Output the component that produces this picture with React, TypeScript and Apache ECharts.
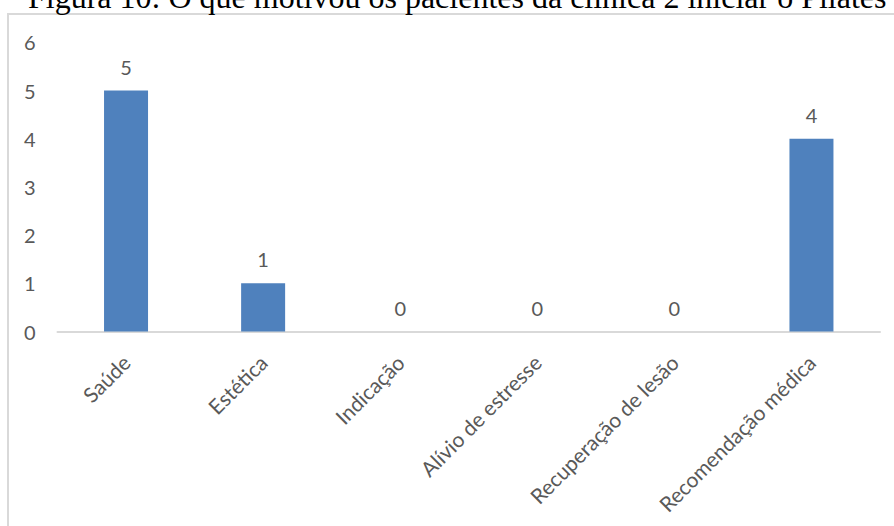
import React, { useEffect, useRef } from "react";
import * as echarts from "echarts";

const title = "Figura 10: O que motivou os pacientes da clínica 2 iniciar o Pilates";
const categories = [
  "Saúde",
  "Estética",
  "Indicação",
  "Alívio de estresse",
  "Recuperação de lesão",
  "Recomendação médica",
];
const counts = [5, 1, 0, 0, 0, 4];
const yTicks = [0, 1, 2, 3, 4, 5, 6];

const LABEL_FONT = "Lato, 'Open Sans', sans-serif";
const LABEL_COLOR = "#595959";

export default function App() {
  const ref = useRef<HTMLDivElement>(null);

  useEffect(() => {
    if (!ref.current) return;
    const chart = echarts.init(ref.current, null, { renderer: "svg" });
    chart.setOption({
      animation: false,
      backgroundColor: "#ffffff",
      grid: { left: 57.5, right: 14, top: 42.3, bottom: 194.5, containLabel: false },
      graphic: [
        {
          type: "rect",
          shape: { x: 8, y: 14, width: 1000, height: 1000 },
          style: { fill: "none", stroke: "#d9d9d9", lineWidth: 2 },
          z: 0,
        },
        {
          type: "text",
          x: 28,
          y: -3,
          style: {
            text: title,
            font: "32px 'Liberation Serif', 'Times New Roman', serif",
            fill: "#000000",
            verticalAlign: "middle",
          },
        },
      ],
      xAxis: {
        type: "category",
        data: categories,
        axisLine: { show: true, lineStyle: { color: "#d9d9d9", width: 2 } },
        axisTick: { show: false },
        axisLabel: {
          rotate: 45,
          interval: 0,
          margin: 27,
          color: LABEL_COLOR,
          fontFamily: LABEL_FONT,
          fontSize: 21,
        },
      },
      yAxis: {
        type: "value",
        min: yTicks[0],
        max: yTicks[yTicks.length - 1],
        interval: 1,
        axisLine: { show: false },
        axisTick: { show: false },
        splitLine: { show: false },
        axisLabel: {
          margin: 22,
          color: LABEL_COLOR,
          fontFamily: LABEL_FONT,
          fontSize: 20,
        },
      },
      series: [
        {
          type: "bar",
          data: counts,
          barWidth: 44,
          itemStyle: { color: "#4f81bd" },
          label: {
            show: true,
            position: "top",
            distance: 14,
            color: LABEL_COLOR,
            fontFamily: LABEL_FONT,
            fontSize: 20,
          },
        },
      ],
    });
    return () => chart.dispose();
  }, []);

  return (
    <div
      ref={ref}
      style={{ position: "fixed", left: 0, top: 0, width: 894, height: 526, background: "#fff" }}
    />
  );
}
